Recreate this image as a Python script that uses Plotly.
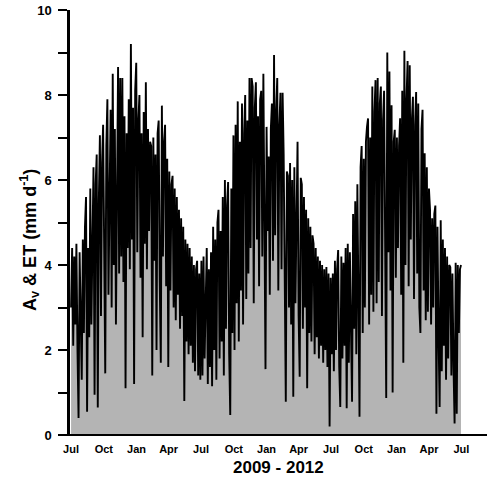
import pandas as pd
import plotly.graph_objects as go

# ET / Av series (sampled every 3 days), Jul 2009 - Jun 2012, mm d-1
et_2009_10 = [
    3.0, 4.4, 2.1, 4.2, 2.6, 4.5, 2.0, 0.4, 4.3, 2.2,
    1.3, 4.6, 2.4, 4.9, 5.6, 0.55, 4.4, 2.3, 5.8, 2.6,
    5.2, 6.3, 0.95, 5.9, 6.6, 0.65, 5.5, 7.05, 2.8, 6.4,
    7.3, 3.2, 1.45, 6.8, 7.9, 3.3, 6.2, 7.65, 3.0, 8.5,
    4.0, 7.2, 2.6, 6.9, 8.66, 3.8, 8.4, 4.2, 8.4, 3.6,
    7.5, 1.1, 7.1, 4.4, 7.9, 3.9, 9.2, 4.6, 7.7, 1.2,
    8.1, 8.76, 4.3, 7.4, 8.0, 3.7, 7.1, 2.3, 7.6, 4.5,
    8.3, 3.9, 7.2, 4.8, 6.9, 6.8, 1.4, 7.0, 4.1, 6.6,
    2.0, 7.1, 7.4, 3.6, 1.7, 7.75, 4.2, 6.9, 7.3, 3.5,
    6.5, 1.6, 6.2, 3.4, 5.9, 6.1, 3.0, 5.8, 2.7, 5.6,
    3.3, 5.3, 2.5, 5.1, 2.8, 4.9, 0.8, 4.6, 2.2, 4.5,
    1.9, 4.4, 2.1, 4.2, 1.7, 4.0, 1.5, 3.9, 4.1, 1.4,
    3.8, 1.3,
]
et_2010_11 = [
    4.1, 1.4, 4.2, 1.8, 3.8, 4.4, 1.2, 3.9, 1.6, 4.3,
    1.15, 4.9, 2.0, 4.6, 1.3, 5.0, 5.3, 1.8, 4.8, 2.2,
    5.6, 1.4, 6.0, 2.5, 5.4, 5.95, 1.9, 0.47, 5.8, 2.4,
    7.05, 2.0, 7.3, 3.1, 7.85, 2.2, 6.9, 3.4, 7.8, 2.6,
    7.1, 8.0, 3.2, 7.4, 3.8, 8.4, 4.4, 8.4, 8.2, 3.1,
    7.7, 8.3, 4.6, 7.5, 3.5, 7.9, 8.1, 4.2, 8.5, 3.6,
    1.55, 7.25, 4.8, 6.55, 3.3, 7.2, 7.8, 4.1, 8.94, 4.7,
    7.6, 8.4, 3.4, 7.3, 8.05, 3.9, 8.05, 6.6, 3.2, 0.78,
    6.2, 6.1, 3.0, 6.4, 2.6, 6.0, 0.9, 6.3, 3.1, 5.8,
    6.9, 2.8, 1.37, 6.05, 5.9, 2.5, 5.6, 3.0, 5.3, 1.1,
    5.1, 2.4, 4.9, 2.2, 4.7, 4.5, 1.9, 4.4, 2.3, 4.2,
    1.8, 4.1, 2.1, 4.0, 1.7, 3.9, 2.0, 3.95, 1.6, 3.8,
    0.2, 3.7,
]
et_2011_12 = [
    1.9, 3.8, 1.5, 4.1, 2.0, 3.9, 4.35, 1.6, 0.66, 4.2,
    1.8, 4.05, 2.1, 4.4, 0.63, 4.5, 1.7, 4.3, 2.2, 0.78,
    5.2, 2.5, 5.5, 1.9, 5.9, 2.6, 0.43, 6.3, 6.8, 2.4,
    6.5, 3.0, 6.9, 7.25, 7.45, 2.6, 7.0, 3.3, 8.2, 2.9,
    7.6, 8.35, 3.1, 8.4, 3.6, 7.8, 8.2, 2.8, 7.4, 8.1,
    3.9, 0.87, 9.0, 4.3, 8.55, 3.4, 7.76, 1.0, 6.9, 7.18,
    3.7, 7.0, 4.4, 6.8, 7.45, 3.3, 8.1, 1.7, 9.04, 4.0,
    7.9, 8.8, 3.5, 8.7, 4.6, 7.4, 7.96, 3.2, 7.3, 8.07,
    3.8, 7.8, 3.0, 2.4, 7.2, 7.65, 3.4, 6.63, 2.7, 6.3,
    2.9, 5.8, 5.3, 2.6, 5.1, 3.0, 5.2, 5.4, 0.5, 4.9,
    2.3, 0.66, 5.05, 1.5, 4.6, 2.1, 4.4, 1.3, 4.2, 1.8,
    4.0, 3.95, 1.4, 3.8, 1.6, 0.27, 4.05, 0.5, 4.0, 2.4,
    3.9, 4.0,
]
start_date = "2009-07-01"
step_days = 3

tick_dates = [
    "2009-07-01", "2009-10-01", "2010-01-01", "2010-04-01",
    "2010-07-01", "2010-10-01", "2011-01-01", "2011-04-01",
    "2011-07-01", "2011-10-01", "2012-01-01", "2012-04-01",
    "2012-07-01",
]
tick_labels = ["Jul", "Oct", "Jan", "Apr", "Jul", "Oct", "Jan", "Apr",
               "Jul", "Oct", "Jan", "Apr", "Jul"]

values = et_2009_10 + et_2010_11 + et_2011_12
dates = pd.date_range(start_date, periods=len(values), freq=f"{step_days}D")

FONT = "Arial, Liberation Sans, sans-serif"

fig = go.Figure()
fig.add_trace(go.Scatter(
    x=dates, y=values, mode="lines",
    line=dict(color="black", width=1.9),
    fill="tozeroy", fillcolor="#b4b4b4",
    hoverinfo="skip", showlegend=False,
))

fig.update_layout(
    width=487, height=478,
    margin=dict(l=70, r=0, t=10, b=43),
    paper_bgcolor="white", plot_bgcolor="white",
    font=dict(family=FONT, color="black"),
    showlegend=False,
    xaxis=dict(
        range=["2009-06-28", "2012-09-11"],
        tickmode="array", tickvals=tick_dates, ticktext=tick_labels,
        ticks="", showgrid=False, zeroline=False, showline=False,
        tickfont=dict(family=FONT, size=11, weight="bold"),
        ticklabelstandoff=6,
    ),
    yaxis=dict(
        range=[0, 10], tickvals=[0, 2, 4, 6, 8, 10],
        ticks="outside", ticklen=9, tickwidth=2, tickcolor="black",
        minor=dict(tickvals=[1, 3, 5, 7, 9], ticks="outside", ticklen=9,
                   tickwidth=2, tickcolor="black"),
        showline=True, linewidth=2.5, linecolor="black",
        showgrid=False, zeroline=False,
        tickfont=dict(family=FONT, size=13, weight="bold"),
        ticklabelstandoff=4,
    ),
    shapes=[dict(type="line", xref="paper", yref="paper",
                 x0=-0.024, x1=1, y0=0, y1=0,
                 line=dict(color="black", width=2), layer="above")],
    annotations=[
        dict(text="A<sub>v</sub> & ET (mm d<sup>-1</sup>)", xref="paper", yref="paper",
             x=-0.096, y=0.459, textangle=-90, showarrow=False,
             xanchor="center", yanchor="middle",
             font=dict(family=FONT, size=18, weight="bold")),
        dict(text="2009 - 2012", xref="paper", yref="paper",
             x=0.5, y=-0.076, showarrow=False, xanchor="center", yanchor="middle",
             font=dict(family=FONT, size=17, weight="bold")),
    ],
)

fig.write_html("out.html", config={"displayModeBar": False},
               post_script="document.body.style.margin='0px';document.body.style.overflow='hidden';")
